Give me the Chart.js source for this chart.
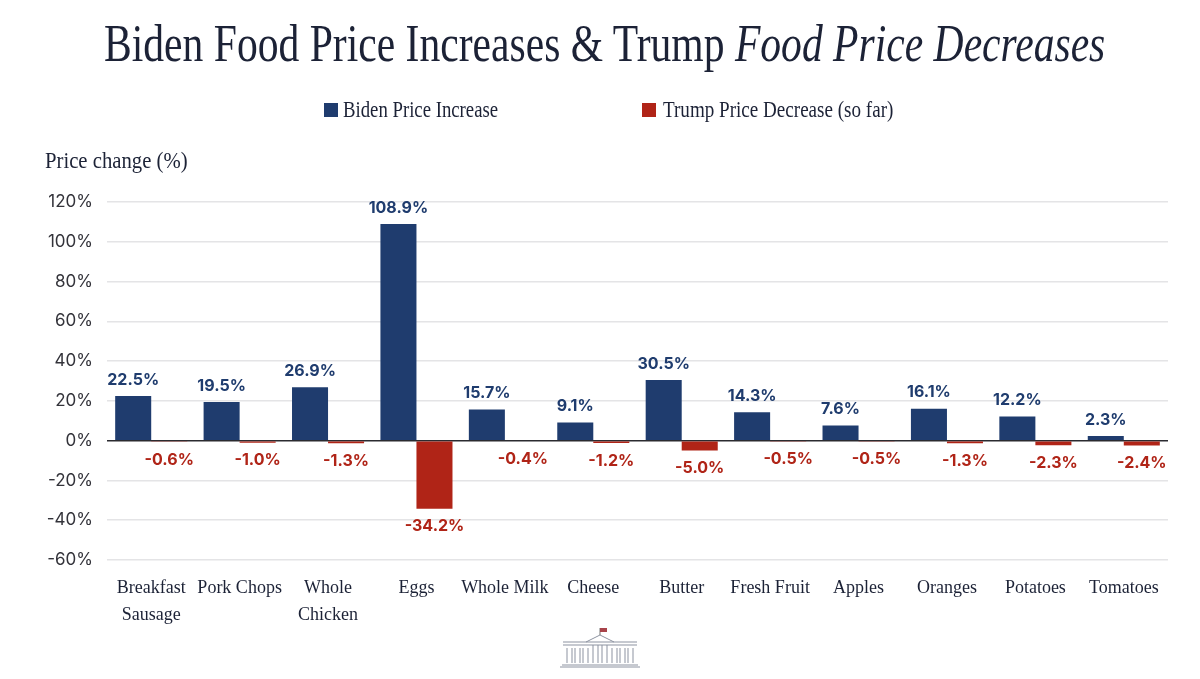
<!DOCTYPE html>
<html>
<head>
<meta charset="utf-8">
<title>Biden Food Price Increases & Trump Food Price Decreases</title>
<script src="https://cdn.jsdelivr.net/npm/chart.js@4"></script>
<style>
    html, body { margin: 0; padding: 0; background: #fff; }
    #page { position: relative; width: 1200px; height: 679px; overflow: hidden; }
    #myChart { position: absolute; left: 0; top: 0; }
    .serif { position: absolute; font-family: "Liberation Serif", serif; color: #1c2236; white-space: nowrap; transform-origin: left top; }
    #title { left: 104px; top: 14px; font-size: 52px; line-height: 60px; font-weight: 400; margin: 0; transform: scaleX(0.8); }
    #axisTitle { left: 45px; top: 147px; font-size: 23px; line-height: 28px; transform: scaleX(0.9); }
    .legendText { top: 96px; font-size: 23px; line-height: 28px; }
    #legendBidenText { transform: scaleX(0.815); }
    #legendTrumpText { transform: scaleX(0.83); }
    .legendBox { position: absolute; top: 103px; width: 14px; height: 14px; }
    #logo { position: absolute; left: 556px; top: 626px; }
</style>
</head>
<body>
<div id="page">
    <canvas id="myChart" width="1200" height="679"></canvas>
    <h1 id="title" class="serif">Biden Food Price Increases &amp; Trump <i>Food Price Decreases</i></h1>
    <div id="legendBiden" class="legendBox"></div>
    <div id="legendBidenText" class="serif legendText"></div>
    <div id="legendTrump" class="legendBox"></div>
    <div id="legendTrumpText" class="serif legendText"></div>
    <div id="axisTitle" class="serif">Price change (%)</div>
    <svg id="logo" width="88" height="44" viewBox="0 0 88 44">
        <g fill="none" stroke="#8d93a1" stroke-width="1">
            <path d="M7 16H81M7 19H81M6 39H82M4 41H84"/>
            <path d="M30 16L44 9L58 16"/>
            <path d="M11 22V37M16 22V37M19 22V37M24 22V37M27 22V37M32 22V37M37 19V37M42 19V37M46 19V37M51 19V37M56 22V37M61 22V37M64 22V37M69 22V37M72 22V37M77 22V37"/>
        </g>
        <path d="M44 9V2" stroke="#777" stroke-width="1"/>
        <rect x="44" y="2" width="7" height="4" fill="#a8434a"/>
    </svg>
</div>
<script>
// Werte
const categories = [
    ['Breakfast', 'Sausage'], 'Pork Chops', ['Whole', 'Chicken'], 'Eggs', 'Whole Milk', 'Cheese',
    'Butter', 'Fresh Fruit', 'Apples', 'Oranges', 'Potatoes', 'Tomatoes'
];
const bidenIncrease = [22.5, 19.5, 26.9, 108.9, 15.7, 9.1, 30.5, 14.3, 7.6, 16.1, 12.2, 2.3];
const trumpDecrease = [-0.6, -1.0, -1.3, -34.2, -0.4, -1.2, -5.0, -0.5, -0.5, -1.3, -2.3, -2.4];
const seriesNames = ['Biden Price Increase', 'Trump Price Decrease (so far)'];
const seriesColors = ['#1f3c6e', '#b02417'];

// Legende als HTML, weil der Text schmaler laufen muss als im Canvas
function placeLegend(boxId, textId, index, boxLeft, textLeft) {
    const box = document.getElementById(boxId);
    const text = document.getElementById(textId);
    box.style.left = boxLeft + 'px';
    box.style.background = seriesColors[index];
    text.style.left = textLeft + 'px';
    text.textContent = seriesNames[index];
}
placeLegend('legendBiden', 'legendBidenText', 0, 324, 343);
placeLegend('legendTrump', 'legendTrumpText', 1, 642, 663);

// Prozentwerte an die Balken schreiben
const barLabels = {
    id: 'barLabels',
    afterDatasetsDraw(chart) {
        const ctx = chart.ctx;
        ctx.save();
        ctx.font = '700 16px Inter';
        ctx.textAlign = 'center';
        ctx.textBaseline = 'middle';
        chart.data.datasets.forEach((dataset, d) => {
            ctx.fillStyle = seriesColors[d];
            chart.getDatasetMeta(d).data.forEach((bar, i) => {
                const value = dataset.data[i];
                const y = value < 0 ? bar.y + 18 : bar.y - 16;
                ctx.fillText(value.toFixed(1) + '%', bar.x, y);
            });
        });
        ctx.restore();
    }
};

new Chart(document.getElementById('myChart').getContext('2d'), {
    type: 'bar',
    data: {
        labels: categories,
        datasets: [
            { label: seriesNames[0], data: bidenIncrease, backgroundColor: seriesColors[0] },
            { label: seriesNames[1], data: trumpDecrease, backgroundColor: seriesColors[1] }
        ]
    },
    options: {
        responsive: false,
        animation: false,
        devicePixelRatio: 1,
        layout: { padding: { top: 202, right: 32, left: 0, bottom: 0 } },
        datasets: { bar: { categoryPercentage: 0.815, barPercentage: 1 } },
        plugins: {
            legend: { display: false },
            title: { display: false },
            tooltip: { enabled: false }
        },
        scales: {
            x: {
                afterFit: scale => { scale.height = 119; },
                grid: { display: false },
                border: { display: false },
                ticks: {
                    padding: 7,
                    maxRotation: 0,
                    autoSkip: false,
                    color: '#1c2236',
                    font: { family: 'Liberation Serif', size: 18, lineHeight: 1.5 }
                }
            },
            y: {
                min: -60,
                max: 120,
                afterFit: scale => { scale.width = 107; },
                border: { display: false },
                grid: {
                    drawTicks: false,
                    lineWidth: 1.5,
                    color: ctx => ctx.tick.value === 0 ? '#2b2b30' : '#e4e4e6'
                },
                ticks: {
                    stepSize: 20,
                    padding: 14,
                    color: '#33333a',
                    font: { family: 'Inter', size: 17 },
                    callback: value => value + '%'
                }
            }
        }
    },
    plugins: [barLabels]
});
</script>
</body>
</html>
